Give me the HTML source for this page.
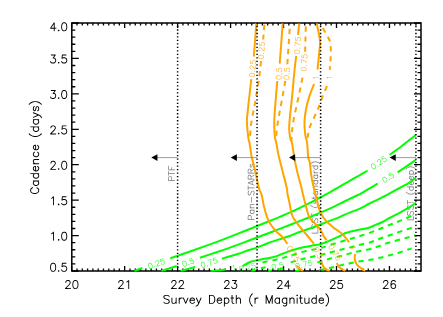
<!DOCTYPE html>
<html><head><meta charset="utf-8"><title>Cadence vs Survey Depth</title>
<style>html,body{margin:0;padding:0;background:#fff;font-family:"Liberation Sans",sans-serif}svg{display:block}</style>
</head><body>
<svg width="443" height="317" viewBox="0 0 443 317">
<rect width="443" height="317" fill="#fff"/>
<defs><clipPath id="clip"><rect x="71.1" y="22.3" width="350.59999999999997" height="249.4"/></clipPath><path id="g0" d="M16.38,-21.12 13.38,-22.12 4,-22.17 3.42,-22 3,-21.58 2.83,-21 2.83,0 3,0.58 3.42,1 4,1.17 4.42,1.08 4.92,0.71 5.12,0.29 5.21,-8.83 13.38,-8.88 16.38,-9.88 16.83,-10.17 18.08,-11.5 19.12,-13.71 19.12,-17.29 18.08,-19.5 16.83,-20.83ZM5.17,-19.79 12.83,-19.83 15.33,-19 16.04,-18.29 16.83,-16.71 16.83,-14.29 16.04,-12.71 15.33,-12 12.83,-11.17 5.21,-11.17Z"/><path id="g1" d="M0.71,-22.12 0.08,-21.71 -0.08,-21.42 -0.17,-21 -0.08,-20.58 0.08,-20.29 0.58,-19.92 1,-19.83 6.83,-19.79 6.83,0 6.92,0.42 7.29,0.92 7.71,1.12 8.29,1.12 8.92,0.71 9.08,0.42 9.17,0 9.17,-19.79 15.29,-19.88 15.71,-20.08 16,-20.42 16.12,-20.71 16.12,-21.29 15.71,-21.92 15.42,-22.08 15,-22.17Z"/><path id="g2" d="M17.58,-22 17,-22.17 4,-22.17 3.42,-22 3,-21.58 2.83,-21 2.83,0 3,0.58 3.42,1 4,1.17 4.42,1.08 4.92,0.71 5.12,0.29 5.17,-9.79 12.29,-9.88 12.92,-10.29 13.08,-10.58 13.17,-11 13.08,-11.42 12.92,-11.71 12.29,-12.12 5.17,-12.21 5.17,-19.79 17.29,-19.88 17.92,-20.29 18.08,-20.58 18.17,-21 18,-21.58Z"/><path id="g3" d="M5.5,-14.08 3,-11.58 1.88,-8.38 1.88,-5.62 2.88,-2.62 3.17,-2.17 5.5,0.08 7.71,1.12 11.29,1.12 13.5,0.08 13.79,-0.17 14,0.58 14.42,1 15,1.17 15.42,1.08 15.71,0.92 16,0.58 16.17,0 16.17,-14 16.08,-14.42 15.92,-14.71 15.29,-15.12 14.58,-15.08 14.29,-14.92 14,-14.58 13.79,-13.83 13.5,-14.08 11.29,-15.12 8,-15.17 7.42,-15.04ZM8.29,-12.83 10.71,-12.83 12.29,-12.04 13.83,-10.5 13.83,-3.5 12.29,-1.96 10.71,-1.17 8.29,-1.17 6.71,-1.96 5,-3.67 4.17,-6.17 4.17,-7.83 5,-10.33 6.71,-12.04Z"/><path id="g4" d="M3.29,-14.92 3,-14.58 2.83,-14 2.83,0 2.92,0.42 3.08,0.71 3.58,1.08 4.29,1.12 4.71,0.92 5.12,0.29 5.17,-9.5 7.71,-12.04 9.29,-12.83 11.71,-12.83 13.08,-12.08 13.83,-9.83 13.88,0.29 14.08,0.71 14.58,1.08 15.29,1.12 15.71,0.92 16,0.58 16.17,0 16.12,-10.38 15.12,-13.38 14.92,-13.71 14.5,-14.08 12.29,-15.12 9,-15.17 8.42,-15.04 6.5,-14.08 5.21,-12.88 5.12,-14.29 4.92,-14.71 4.58,-15 4,-15.17 3.58,-15.08Z"/><path id="g5" d="M2.83,-9 2.92,-8.58 3.08,-8.29 3.42,-8 4,-7.83 22,-7.83 22.42,-7.92 22.71,-8.08 23,-8.42 23.17,-9 23.08,-9.42 22.92,-9.71 22.58,-10 22,-10.17 4,-10.17 3.58,-10.08 3.29,-9.92 3,-9.58Z"/><path id="g6" d="M7.62,-22.12 4.42,-21 2.17,-18.83 1.92,-18.42 1.83,-18 1.83,-16 1.96,-15.42 2.92,-13.5 4.5,-11.92 6.62,-10.88 12.46,-8.96 14.29,-8.04 15.04,-7.29 15.83,-5.71 15.83,-3.5 14.33,-2 11.83,-1.17 8.17,-1.17 5.67,-2 3.83,-3.83 3.29,-4.12 2.71,-4.12 2.29,-3.92 1.92,-3.42 1.88,-2.71 2.17,-2.17 4.17,-0.17 4.62,0.12 7.62,1.12 12.38,1.12 15.58,0 17.83,-2.17 18.08,-2.58 18.17,-3 18.17,-6 18.04,-6.58 17.08,-8.5 15.5,-10.08 13.38,-11.12 7.54,-13.04 5.71,-13.96 4.96,-14.71 4.17,-16.29 4.17,-17.5 5.67,-19 8.17,-19.83 11.83,-19.83 14.33,-19 16.17,-17.17 16.71,-16.88 17.29,-16.88 17.71,-17.08 18.08,-17.58 18.12,-18.29 17.83,-18.83 15.83,-20.83 15.38,-21.12 12.38,-22.12Z"/><path id="g7" d="M9.42,-22.08 9,-22.17 8.58,-22.08 8.29,-21.92 7.88,-21.38 -0.08,-0.46 -0.17,0 -0.08,0.42 0.08,0.71 0.58,1.08 1,1.17 1.42,1.08 1.71,0.92 2.12,0.38 4.5,-5.83 13.5,-5.83 15.88,0.38 16.08,0.71 16.58,1.08 17.29,1.12 17.71,0.92 18.08,0.42 18.17,0 18.04,-0.58 10.12,-21.38 9.92,-21.71ZM9,-17.67 12.62,-8.25 12.58,-8.17 5.38,-8.21Z"/><path id="g8" d="M3.42,-22 3,-21.58 2.83,-21 2.83,0 3,0.58 3.42,1 4,1.17 4.42,1.08 4.71,0.92 5.12,0.29 5.17,-9.79 10.33,-9.83 17,0.62 17.29,0.92 17.71,1.12 18,1.17 18.58,1 18.92,0.71 19.12,0.29 19.17,0 19,-0.62 13.12,-9.83 16.38,-10.88 16.83,-11.17 18.08,-12.5 19.04,-14.42 19.17,-15 19.12,-17.29 18.08,-19.5 16.83,-20.83 16.38,-21.12 13.38,-22.12 4,-22.17ZM5.17,-19.79 12.83,-19.83 15.33,-19 16.04,-18.29 16.83,-16.71 16.83,-15.29 16.04,-13.71 15.33,-13 12.83,-12.17 5.21,-12.17Z"/><path id="g9" d="M6.62,-15.12 3.62,-14.12 3.29,-13.92 2.92,-13.5 1.96,-11.58 1.83,-11 1.96,-10.42 2.92,-8.5 3.5,-7.92 5.42,-6.96 10.54,-5.92 12.04,-5.17 12.83,-3.71 12.83,-3.29 12.08,-1.92 9.83,-1.17 7.17,-1.17 4.92,-1.92 4.08,-3.5 3.71,-3.92 3.29,-4.12 2.71,-4.12 2.29,-3.92 1.92,-3.42 1.88,-2.71 2.92,-0.5 3.29,-0.08 3.62,0.12 6.62,1.12 10.38,1.12 13.38,0.12 13.92,-0.29 15.12,-2.71 15.17,-4 15.04,-4.58 14.08,-6.5 13.5,-7.08 11.58,-8.04 6.46,-9.08 4.96,-9.83 4.33,-11.04 4.92,-12.08 7.17,-12.83 9.83,-12.83 12.08,-12.08 12.92,-10.5 13.29,-10.08 13.71,-9.88 14.29,-9.88 14.71,-10.08 15.08,-10.58 15.12,-11.29 14.08,-13.5 13.71,-13.92 13.38,-14.12 10.38,-15.12Z"/><path id="g10" d="M3.42,-22 3,-21.58 2.83,-21 2.83,0 3,0.58 3.42,1 4,1.17 16,1.17 16.58,1 17,0.58 17.17,0 17.08,-0.42 16.92,-0.71 16.29,-1.12 5.17,-1.21 5.17,-21 5,-21.58 4.58,-22 4,-22.17Z"/><path id="g11" d="M11,-26.17 10.58,-26.08 10.17,-25.83 8.17,-23.83 5.92,-20.5 3.96,-16.58 2.83,-11 2.88,-6.62 3.96,-1.42 5.92,2.5 7.96,5.58 10.17,7.83 10.58,8.08 11,8.17 11.42,8.08 11.92,7.71 12.12,7.29 12.08,6.58 11.83,6.17 9.88,4.21 8.04,1.46 6.08,-2.46 5.17,-7 5.17,-11 6.08,-15.54 8.04,-19.46 9.88,-22.21 11.83,-24.17 12.08,-24.58 12.12,-25.29 11.92,-25.71 11.58,-26Z"/><path id="g12" d="M4.71,-22.12 4.08,-21.71 3.92,-21.42 3.83,-21 3.83,-15.21 2,-15.17 1.42,-15 1.08,-14.71 0.92,-14.42 0.88,-13.71 1.08,-13.29 1.71,-12.88 3.83,-12.79 3.88,-3.62 5,-0.42 5.5,0.08 7.42,1.04 8,1.17 10.29,1.12 10.71,0.92 11.08,0.42 11.12,-0.29 10.92,-0.71 10.29,-1.12 8.29,-1.17 7.04,-1.79 6.92,-1.92 6.17,-4.17 6.17,-12.79 9,-12.83 9.42,-12.92 9.71,-13.08 10,-13.42 10.12,-13.71 10.12,-14.29 9.92,-14.71 9.29,-15.12 6.17,-15.21 6.12,-21.29 5.92,-21.71 5.58,-22 5.29,-22.12Z"/><path id="g13" d="M15.42,-22.08 15,-22.17 14.42,-22 14.08,-21.71 13.88,-21.29 13.79,-13.83 13.5,-14.08 11.29,-15.12 7.71,-15.12 5.5,-14.08 5.17,-13.83 3.17,-11.83 2.88,-11.38 1.88,-8.38 1.83,-8 1.88,-5.62 2.88,-2.62 3.17,-2.17 5.17,-0.17 5.5,0.08 7.42,1.04 8,1.17 11.29,1.12 13.5,0.08 13.79,-0.17 13.88,0.29 14.08,0.71 14.71,1.12 15,1.17 15.58,1 15.92,0.71 16.08,0.42 16.17,0 16.17,-21 16.08,-21.42 15.92,-21.71ZM8.29,-12.83 10.71,-12.83 12.29,-12.04 13.83,-10.5 13.83,-3.5 12.29,-1.96 10.71,-1.17 8.29,-1.17 6.71,-1.96 5,-3.67 4.17,-6.17 4.17,-7.83 5,-10.33 6.71,-12.04Z"/><path id="g14" d="M12.58,-15 12,-15.17 9,-15.17 8.42,-15.04 6.5,-14.08 5.21,-12.88 5.12,-14.29 4.71,-14.92 4.29,-15.12 3.71,-15.12 3.29,-14.92 3,-14.58 2.83,-14 2.83,0 3,0.58 3.42,1 4,1.17 4.42,1.08 4.92,0.71 5.12,0.29 5.17,-7.83 6,-10.33 7.71,-12.04 9.29,-12.83 12,-12.83 12.42,-12.92 12.71,-13.08 13,-13.42 13.17,-14 13,-14.58Z"/><path id="g15" d="M3,-26.17 2.58,-26.08 2.08,-25.71 1.88,-25.29 1.92,-24.58 2.17,-24.17 4.12,-22.21 5.96,-19.46 7.92,-15.54 8.83,-11 8.83,-7 7.92,-2.46 5.96,1.46 4.12,4.21 2.17,6.17 1.92,6.58 1.88,7.29 2.08,7.71 2.42,8 3,8.17 3.42,8.08 3.83,7.83 5.83,5.83 8.08,2.5 10.04,-1.42 11.17,-7 11.12,-11.38 10.04,-16.58 8.08,-20.5 6.04,-23.58 3.83,-25.83 3.42,-26.08Z"/><path id="g16" d="M7.71,-15.12 5.5,-14.08 5.17,-13.83 3,-11.58 1.88,-8.38 1.88,-5.62 3,-2.42 5.5,0.08 7.71,1.12 11.29,1.12 13.5,0.08 15.83,-2.17 16.08,-2.58 16.17,-3 16.08,-3.42 15.92,-3.71 15.42,-4.08 14.71,-4.12 14.17,-3.83 12.29,-1.96 10.71,-1.17 8.29,-1.17 6.71,-1.96 5,-3.67 4.17,-6.17 4.17,-6.79 15.29,-6.88 15.71,-7.08 16.12,-7.71 16.12,-10.29 15.08,-12.5 13.5,-14.08 11.29,-15.12ZM4.62,-9.21 5,-10.33 6.71,-12.04 8.29,-12.83 10.71,-12.83 12.29,-12.04 13.04,-11.29 13.83,-9.71 13.79,-9.17Z"/><path id="g17" d="M11.58,-15.04 11,-15.17 7.71,-15.12 5.5,-14.08 5.21,-13.83 5.12,-14.29 4.92,-14.71 4.29,-15.12 4,-15.17 3.42,-15 3.08,-14.71 2.92,-14.42 2.83,-14 2.83,7 2.92,7.42 3.08,7.71 3.58,8.08 4,8.17 4.58,8 4.92,7.71 5.12,7.29 5.21,-0.17 5.5,0.08 7.71,1.12 11.29,1.12 13.5,0.08 13.83,-0.17 15.83,-2.17 16.12,-2.62 17.12,-5.62 17.17,-6 17.12,-8.38 16.12,-11.38 15.83,-11.83 13.83,-13.83 13.5,-14.08ZM8.29,-12.83 10.71,-12.83 12.29,-12.04 14,-10.33 14.83,-7.83 14.83,-6.17 14,-3.67 12.29,-1.96 10.71,-1.17 8.29,-1.17 6.71,-1.96 5.17,-3.5 5.17,-10.5 6.71,-12.04Z"/><path id="g18" d="M9,-22.12 8.62,-22.08 5.62,-21.08 5.25,-20.83 3.08,-17.67 2.88,-17.17 1.92,-12.38 1.88,-9 2.96,-3.58 5.17,-0.25 5.62,0.08 8.62,1.08 11,1.12 11.38,1.08 14.38,0.08 14.75,-0.17 16.92,-3.33 17.12,-3.83 18.08,-8.62 18.12,-12 17.04,-17.42 14.83,-20.75 14.38,-21.08 11.38,-22.08ZM9.17,-19.88 10.83,-19.88 13.33,-19 14.96,-16.54 15.88,-12 15.88,-9 14.96,-4.46 13.29,-1.96 10.83,-1.12 9.17,-1.12 6.67,-2 5.04,-4.46 4.12,-9 4.12,-12 5.04,-16.54 6.71,-19.04Z"/><path id="g19" d="M5,-3.12 4.58,-3.04 4.25,-2.83 3.17,-1.75 2.96,-1.42 2.88,-1 2.96,-0.58 3.17,-0.25 4.25,0.83 4.58,1.04 5,1.12 5.42,1.04 5.75,0.83 6.83,-0.25 7.04,-0.58 7.12,-1 7.04,-1.42 6.83,-1.75 5.75,-2.83 5.42,-3.04Z"/><path id="g20" d="M7.46,-22 5.42,-20.96 3.96,-19.46 2.92,-17.29 2.92,-15.71 3.25,-15.17 3.58,-14.96 4,-14.88 4.42,-14.96 4.75,-15.17 5.08,-15.71 5.12,-16.75 5.92,-18.33 6.67,-19.08 8.25,-19.88 11.75,-19.88 13.33,-19.08 14.08,-18.33 14.88,-16.75 14.88,-15.25 14,-13.5 12.17,-10.75 2.17,-0.75 1.92,-0.29 1.96,0.42 2.42,0.96 3,1.12 17,1.12 17.42,1.04 17.96,0.58 18.12,0 18.04,-0.42 17.83,-0.75 17.29,-1.08 5.75,-1.17 13.83,-9.25 16.04,-12.54 17,-14.46 17.12,-15 17.12,-17 17,-17.54 15.96,-19.58 14.58,-20.96 12.29,-22.08 8,-22.12Z"/><path id="g21" d="M4.58,-22.04 4.04,-21.58 3.83,-20.88 2.88,-12.21 2.92,-11.71 3.04,-11.42 3.58,-10.96 4.29,-10.92 4.75,-11.17 5.58,-12 8.17,-12.88 10.83,-12.88 13.33,-12.04 15.04,-10.33 15.88,-7.83 15.88,-6.17 15,-3.58 13.42,-2 10.83,-1.12 8.17,-1.12 5.58,-2 4.92,-2.67 3.96,-4.58 3.75,-4.83 3.29,-5.08 2.71,-5.08 2.17,-4.75 1.96,-4.42 1.88,-4 2,-3.46 3.04,-1.42 4.25,-0.17 4.62,0.08 7.62,1.08 11.38,1.08 14.38,0.08 14.75,-0.17 16.96,-2.42 18.08,-5.62 18.08,-8.38 16.96,-11.58 14.58,-13.96 11.38,-15.08 7.62,-15.08 5.46,-14.33 5.42,-14.71 6.04,-19.88 15.29,-19.92 15.58,-20.04 15.96,-20.42 16.12,-21 16.04,-21.42 15.58,-21.96 15,-22.12 5,-22.12Z"/><path id="g22" d="M17.42,-22.04 17,-22.12 3,-22.12 2.42,-21.96 1.96,-21.42 1.88,-21 2.04,-20.42 2.42,-20.04 3,-19.88 15.21,-19.83 6.08,-0.75 5.92,-0.29 5.92,0.29 6.17,0.75 6.58,1.04 7,1.12 7.42,1.04 7.75,0.83 8.04,0.46 17.92,-20.25 18.08,-20.71 18.08,-21.29 17.83,-21.75Z"/><path id="g23" d="M11,-22.12 10.58,-22.04 10.25,-21.83 7.33,-18.92 5.25,-17.83 4.96,-17.42 4.88,-17 4.96,-16.58 5.25,-16.17 5.71,-15.92 6.29,-15.92 8.46,-16.96 9.88,-18.21 9.88,0 9.96,0.42 10.17,0.75 10.58,1.04 11,1.12 11.42,1.04 11.75,0.83 12.04,0.42 12.12,0 12.12,-21 12.04,-21.42 11.83,-21.75 11.42,-22.04Z"/><path id="g24" d="M7.46,-22.08 5.12,-20.88 4.12,-19.88 2.83,-17.29 2.83,-15.71 3.17,-15.12 3.58,-14.88 4,-14.79 4.42,-14.88 4.83,-15.12 5.17,-15.71 5.21,-16.75 5.92,-18.17 6.83,-19.08 8.25,-19.79 11.75,-19.79 13.17,-19.08 14.08,-18.17 14.79,-16.75 14.79,-15.25 13.96,-13.58 12.21,-10.96 2.12,-0.88 1.83,-0.29 1.88,0.42 2.12,0.83 2.33,1 3,1.21 17,1.21 17.42,1.12 17.83,0.88 18,0.67 18.21,0 18.12,-0.42 17.88,-0.83 17.29,-1.17 6,-1.25 13.88,-9.12 16.08,-12.46 17.08,-14.46 17.21,-15 17.21,-17 17.08,-17.54 15.88,-19.88 14.88,-20.88 12.29,-22.17 8,-22.21Z"/><path id="g25" d="M9,-22.21 8.62,-22.17 5.33,-21 4.96,-20.62 3.04,-17.75 2.79,-17.21 1.83,-12.42 1.79,-9 2.79,-3.79 3.04,-3.25 5.12,-0.17 5.62,0.17 8.62,1.17 11,1.21 11.38,1.17 14.67,0 15.04,-0.38 16.96,-3.25 17.21,-3.79 18.17,-8.58 18.21,-12 17.21,-17.21 16.96,-17.75 14.88,-20.83 14.38,-21.17 11.38,-22.17ZM9.17,-19.79 10.83,-19.79 13.29,-18.92 14.88,-16.54 15.79,-11.96 15.79,-9.04 14.88,-4.46 13.21,-2 10.83,-1.21 9.17,-1.21 6.71,-2.08 5.12,-4.46 4.21,-9.04 4.21,-11.96 5.12,-16.54 6.79,-19Z"/><path id="g26" d="M11,-22.21 10.58,-22.12 10.12,-21.88 7.17,-18.92 5.17,-17.88 4.88,-17.42 4.79,-17 4.88,-16.58 5.17,-16.12 5.71,-15.83 6.29,-15.83 8.54,-16.92 9.79,-17.96 9.79,0 9.88,0.42 10.12,0.83 10.58,1.12 11,1.21 11.42,1.12 11.83,0.88 12.12,0.42 12.21,0 12.21,-21 12.12,-21.42 11.88,-21.83 11.42,-22.12Z"/><path id="g27" d="M4.58,-22.12 4.17,-21.88 4,-21.67 3.79,-21 3.88,-20.58 4.12,-20.17 4.71,-19.83 13.58,-19.75 9.08,-13.79 8.83,-13.29 8.83,-12.71 9.12,-12.17 9.71,-11.83 12.75,-11.79 14.17,-11.08 14.96,-10.29 15.79,-7.83 15.79,-6.17 14.96,-3.71 13.29,-2.04 10.83,-1.21 8.17,-1.21 5.71,-2.04 4.92,-2.83 3.88,-4.83 3.29,-5.17 2.71,-5.17 2.12,-4.83 1.83,-4.29 1.79,-4 1.92,-3.46 3.12,-1.12 4.12,-0.12 4.62,0.17 7.62,1.17 11.38,1.17 14.38,0.17 14.88,-0.12 16.88,-2.12 17.17,-2.62 18.17,-5.62 18.17,-8.38 17.17,-11.38 16.88,-11.88 15.88,-12.88 13.54,-14.08 12.42,-14.25 17,-20.33 17.21,-21 17.12,-21.42 16.88,-21.83 16.67,-22 16,-22.21 5,-22.21Z"/><path id="g28" d="M13,-22.21 12.58,-22.12 12,-21.71 2,-7.71 1.79,-7 1.88,-6.58 2.12,-6.17 2.58,-5.88 3,-5.79 11.75,-5.79 11.83,0.29 12.17,0.88 12.58,1.12 13,1.21 13.42,1.12 13.83,0.88 14.17,0.29 14.21,-5.75 18.29,-5.83 18.88,-6.17 19.12,-6.58 19.21,-7 19.12,-7.42 18.88,-7.83 18.29,-8.17 14.21,-8.25 14.21,-21 14.12,-21.42 13.88,-21.83 13.42,-22.12ZM11.75,-17.17 11.79,-8.25 5.42,-8.21 5.54,-8.5Z"/><path id="g29" d="M4.58,-22.12 4.12,-21.83 3.79,-21.12 2.79,-12.21 2.83,-11.71 3.17,-11.12 3.58,-10.88 4.29,-10.83 4.88,-11.12 5.71,-11.96 8.17,-12.79 10.83,-12.79 13.21,-12 15,-10.21 15.79,-7.83 15.79,-6.17 14.96,-3.71 13.29,-2.04 10.83,-1.21 8.17,-1.21 5.71,-2.04 4.92,-2.83 3.88,-4.83 3.29,-5.17 2.71,-5.17 2.12,-4.83 1.83,-4.29 1.79,-4 1.92,-3.46 3.12,-1.12 4.12,-0.12 4.62,0.17 7.62,1.17 11.38,1.17 14.38,0.17 14.88,-0.12 16.88,-2.12 17.17,-2.62 18.17,-5.62 18.17,-8.38 17,-11.67 14.88,-13.88 14.38,-14.17 11.38,-15.17 7.62,-15.17 5.58,-14.46 5.5,-14.5 6.04,-19.62 6.12,-19.79 15.29,-19.83 15.67,-20 16,-20.33 16.21,-21 16.12,-21.42 15.88,-21.83 15.67,-22 15,-22.21 5,-22.21Z"/><path id="g30" d="M12,-22.21 9.62,-22.17 6.62,-21.17 6.12,-20.83 4.04,-17.75 3.79,-17.21 2.79,-12 2.83,-6.62 3.79,-2.79 4,-2.33 6.33,0 9.62,1.17 10,1.21 11.38,1.17 14.38,0.17 14.88,-0.12 16.88,-2.12 17.17,-2.62 18.17,-5.62 18.21,-6 18.17,-7.38 17.17,-10.38 16.88,-10.88 14.88,-12.88 14.38,-13.17 11.38,-14.17 9.62,-14.17 6.62,-13.17 6.12,-12.88 5.25,-12.08 6.12,-16.54 7.79,-19 10.17,-19.79 11.83,-19.79 14.08,-19.04 15,-17.33 15.17,-17.12 15.58,-16.88 16.29,-16.83 16.67,-17 17,-17.33 17.17,-17.71 17.17,-18.29 16.08,-20.54 15.83,-20.88 15.38,-21.17 12.38,-22.17ZM10.17,-11.79 10.83,-11.79 13.29,-10.96 14.96,-9.29 15.79,-6.83 15.79,-6.17 14.96,-3.71 13.29,-2.04 10.83,-1.21 10.17,-1.21 7.71,-2.04 6.08,-3.67 5.25,-6.92 6.04,-9.29 7.71,-10.96Z"/><path id="g31" d="M5,-3.21 4.58,-3.12 4.12,-2.88 3.12,-1.88 2.88,-1.42 2.79,-1 2.88,-0.58 3.12,-0.12 4.12,0.88 4.58,1.12 5,1.21 5.42,1.12 5.88,0.88 6.88,-0.12 7.12,-0.58 7.21,-1 7.12,-1.42 6.88,-1.88 5.88,-2.88 5.42,-3.12Z"/><path id="g32" d="M7.62,-22.17 4.33,-21 2.12,-18.88 1.88,-18.42 1.79,-18 1.79,-16 1.92,-15.46 3.12,-13.12 4.12,-12.12 6.62,-10.83 12.58,-8.88 14.17,-8.08 15.08,-7.17 15.79,-5.75 15.79,-3.54 14.29,-2.04 11.83,-1.21 8.17,-1.21 5.79,-2 3.88,-3.88 3.29,-4.17 2.71,-4.17 2.17,-3.88 1.83,-3.29 1.83,-2.71 2.12,-2.12 4.12,-0.12 4.62,0.17 7.62,1.17 12.38,1.17 15.67,0 17.88,-2.12 18.12,-2.58 18.21,-3 18.21,-6 18.08,-6.54 16.88,-8.88 15.88,-9.88 13.38,-11.17 7.42,-13.12 5.83,-13.92 4.92,-14.83 4.21,-16.25 4.21,-17.46 5.71,-18.96 8.17,-19.79 11.83,-19.79 14.21,-19 16.12,-17.12 16.71,-16.83 17.29,-16.83 17.83,-17.12 18.17,-17.71 18.17,-18.29 17.88,-18.88 15.88,-20.88 15.38,-21.17 12.38,-22.17Z"/><path id="g33" d="M3.17,-14.88 2.88,-14.42 2.79,-14 2.83,-3.62 3.83,-0.62 4.12,-0.17 4.46,0.08 6.71,1.17 10,1.21 10.54,1.08 12.88,-0.12 13.75,-1 13.83,0.29 14.17,0.88 14.58,1.12 15,1.21 15.42,1.12 15.83,0.88 16.12,0.42 16.21,0 16.21,-14 16.12,-14.42 15.88,-14.83 15.29,-15.17 14.71,-15.17 14.17,-14.88 13.83,-14.29 13.79,-4.54 11.17,-1.92 9.75,-1.21 7.25,-1.21 5.96,-1.92 5.21,-4.17 5.17,-14.29 4.88,-14.83 4.29,-15.17 3.71,-15.17Z"/><path id="g34" d="M12.67,-15 12,-15.21 8.71,-15.17 6.12,-13.88 5.25,-13 5.17,-14.29 5,-14.67 4.67,-15 4.29,-15.17 3.71,-15.17 3.33,-15 3,-14.67 2.79,-14 2.79,0 3,0.67 3.33,1 4,1.21 4.42,1.12 4.88,0.83 5.17,0.29 5.21,-7.83 6.04,-10.29 7.83,-12.08 9.25,-12.79 12,-12.79 12.67,-13 13,-13.33 13.21,-14 13,-14.67Z"/><path id="g35" d="M1.58,-15.12 1.17,-14.88 0.88,-14.42 0.79,-14 0.96,-13.33 6.88,0.46 7.17,0.88 7.58,1.12 8,1.21 8.42,1.12 8.83,0.88 9.17,0.38 15.04,-13.33 15.21,-14 15.12,-14.42 14.88,-14.83 14.67,-15 14,-15.21 13.33,-15 13,-14.67 8,-3.08 3.12,-14.46 2.83,-14.88 2.42,-15.12 2,-15.21Z"/><path id="g36" d="M7.71,-15.17 5.12,-13.88 3.12,-11.88 2.83,-11.38 1.83,-8.38 1.83,-5.62 3,-2.33 5.12,-0.12 7.71,1.17 11.29,1.17 13.88,-0.12 15.88,-2.12 16.12,-2.58 16.21,-3 16.12,-3.42 15.88,-3.83 15.42,-4.12 15,-4.21 14.33,-4 12.17,-1.92 10.75,-1.21 8.25,-1.21 6.83,-1.92 5.04,-3.71 4.21,-6.17 4.21,-6.75 15.29,-6.83 15.83,-7.12 16.17,-7.71 16.17,-10.29 14.88,-12.88 13.88,-13.88 11.29,-15.17ZM4.71,-9.33 5.04,-10.29 6.83,-12.08 8.25,-12.79 10.75,-12.79 12.17,-12.08 13.08,-11.17 13.79,-9.75 13.75,-9.21 4.75,-9.21Z"/><path id="g37" d="M14.67,-15 14.29,-15.17 13.71,-15.17 13.17,-14.88 12.88,-14.46 8,-3.08 3,-14.67 2.67,-15 2,-15.21 1.33,-15 1,-14.67 0.79,-14 0.88,-13.54 6.67,0 5.08,3.17 3.17,5.08 1.75,5.79 0.71,5.83 0.12,6.17 -0.12,6.58 -0.21,7 0,7.67 0.33,8 1,8.21 2.29,8.17 4.88,6.88 6.88,4.88 9.17,0.38 15.12,-13.54 15.17,-14.29 15,-14.67Z"/><path id="g38" d="M3.58,-22.12 3.17,-21.88 3,-21.67 2.79,-21 2.79,0 2.88,0.42 3.12,0.83 3.33,1 4,1.21 11.38,1.17 14.38,0.17 14.88,-0.12 16.88,-2.12 18.17,-4.62 19.17,-7.62 19.17,-13.38 18.17,-16.38 16.88,-18.88 14.88,-20.88 14.38,-21.17 11.38,-22.17 4,-22.21ZM5.25,-19.79 10.83,-19.79 13.21,-19 15.08,-17.17 15.88,-15.58 16.79,-12.83 16.79,-8.17 15.88,-5.42 15.08,-3.83 13.21,-2 10.83,-1.21 5.21,-1.25Z"/><path id="g39" d="M11.29,-15.17 7.71,-15.17 5.25,-13.92 5.12,-14.42 4.88,-14.83 4.42,-15.12 4,-15.21 3.58,-15.12 3.17,-14.88 2.83,-14.29 2.79,7 2.88,7.42 3.12,7.83 3.71,8.17 4.29,8.17 4.67,8 5,7.67 5.17,7.29 5.21,-0.04 7.71,1.17 11,1.21 11.54,1.08 13.88,-0.12 15.88,-2.12 16.17,-2.62 17.17,-5.62 17.17,-8.38 16.17,-11.38 15.88,-11.88 13.88,-13.88ZM8.25,-12.79 10.75,-12.79 12.17,-12.08 13.96,-10.29 14.79,-7.83 14.79,-6.17 13.96,-3.71 12.17,-1.92 10.75,-1.21 8.25,-1.21 6.83,-1.92 5.21,-3.54 5.21,-10.46 6.83,-12.08Z"/><path id="g40" d="M4.71,-22.17 4.12,-21.83 3.88,-21.42 3.79,-21 3.79,-15.25 2,-15.21 1.33,-15 1.12,-14.83 0.88,-14.42 0.83,-13.71 1.12,-13.17 1.71,-12.83 3.79,-12.75 3.83,-3.62 5,-0.33 5.46,0.08 7.71,1.17 10.29,1.17 10.83,0.88 11.17,0.29 11.17,-0.29 10.88,-0.83 10.29,-1.17 8.25,-1.21 7.08,-1.79 6.96,-1.92 6.21,-4.17 6.21,-12.75 9,-12.79 9.42,-12.88 9.83,-13.12 10.17,-13.71 10.17,-14.29 9.88,-14.83 9.29,-15.17 6.21,-15.25 6.17,-21.29 6,-21.67 5.67,-22 5.29,-22.17Z"/><path id="g41" d="M3.33,-22 3,-21.67 2.79,-21 2.79,0 3,0.67 3.17,0.88 3.58,1.12 4.29,1.17 4.83,0.88 5.17,0.29 5.21,-9.46 7.83,-12.08 9.25,-12.79 11.75,-12.79 13.04,-12.08 13.79,-9.83 13.83,0.29 14.12,0.83 14.58,1.12 15,1.21 15.67,1 16,0.67 16.21,0 16.17,-10.38 15.17,-13.38 14.88,-13.83 14.54,-14.08 12.29,-15.17 9,-15.21 8.46,-15.08 6.12,-13.88 5.25,-13 5.17,-21.29 4.88,-21.83 4.42,-22.12 4,-22.21Z"/><path id="g42" d="M11,-26.21 10.58,-26.12 10.12,-25.88 8.12,-23.88 5.92,-20.54 3.79,-16.21 2.79,-11 2.83,-6.58 3.92,-1.46 5.92,2.54 8.12,5.88 10.12,7.88 10.58,8.12 11,8.21 11.67,8 12,7.67 12.21,7 12.12,6.58 11.88,6.12 9.79,4.04 8.04,1.42 6.17,-2.33 5.21,-7.04 5.21,-10.96 6.12,-15.54 8.04,-19.42 9.79,-22.04 11.88,-24.12 12.12,-24.58 12.21,-25 12,-25.67 11.67,-26Z"/><path id="g43" d="M3.17,-21.88 2.88,-21.42 2.79,-21 2.79,0 2.88,0.42 3.12,0.83 3.71,1.17 4.42,1.12 4.83,0.88 5,0.67 5.21,0 5.25,-14.29 10.79,0.25 11.17,0.88 11.58,1.12 12,1.21 12.42,1.12 12.83,0.88 13.21,0.25 18.75,-14.29 18.79,0 19,0.67 19.17,0.88 19.58,1.12 20.29,1.17 20.83,0.88 21.12,0.42 21.21,0 21.21,-21 21.12,-21.42 20.88,-21.83 20.29,-22.17 19.71,-22.17 19.17,-21.88 18.79,-21.25 12,-3.42 5.21,-21.25 4.88,-21.83 4.29,-22.17 3.71,-22.17Z"/><path id="g44" d="M5.12,-13.88 3,-11.67 1.83,-8.38 1.83,-5.62 2.83,-2.62 3.12,-2.12 5.12,-0.12 7.71,1.17 11.29,1.17 13.75,-0.08 14,0.67 14.33,1 15,1.21 15.67,1 16,0.67 16.21,0 16.21,-14 16,-14.67 15.83,-14.88 15.42,-15.12 14.71,-15.17 14.12,-14.83 13.88,-14.42 13.75,-13.92 11.29,-15.17 8,-15.21 7.46,-15.08ZM8.25,-12.79 10.75,-12.79 12.17,-12.08 13.79,-10.46 13.79,-3.54 12.17,-1.92 10.75,-1.21 8.25,-1.21 6.83,-1.92 5.04,-3.71 4.21,-6.17 4.21,-7.83 5.04,-10.29 6.83,-12.08Z"/><path id="g45" d="M15.29,-15.17 14.71,-15.17 14.17,-14.88 13.88,-14.42 13.75,-13.92 11.54,-15.08 11,-15.21 7.71,-15.17 5.12,-13.88 3.12,-11.88 2.83,-11.38 1.83,-8.38 1.83,-5.62 2.83,-2.62 3.12,-2.12 5.12,-0.12 7.46,1.08 8,1.21 11.29,1.17 13.79,-0.04 13.79,1.83 13,4.21 12.17,5.08 10.75,5.79 8.25,5.79 6.54,4.92 6,4.79 5.33,5 5,5.33 4.79,6 4.88,6.42 5.12,6.83 5.46,7.08 7.71,8.17 11.29,8.17 13.88,6.88 14.88,5.88 15.17,5.38 16.17,2.38 16.21,-14 16.12,-14.42 15.88,-14.83ZM8.25,-12.79 10.75,-12.79 12.17,-12.08 13.79,-10.46 13.79,-3.54 12.17,-1.92 10.75,-1.21 8.25,-1.21 6.83,-1.92 5.04,-3.71 4.21,-6.17 4.21,-7.83 5.04,-10.29 6.83,-12.08Z"/><path id="g46" d="M3.17,-14.88 2.88,-14.42 2.79,-14 2.79,0 2.88,0.42 3.12,0.83 3.71,1.17 4.29,1.17 4.83,0.88 5.17,0.29 5.21,-9.46 7.83,-12.08 9.25,-12.79 11.75,-12.79 13.04,-12.08 13.79,-9.83 13.83,0.29 14.12,0.83 14.71,1.17 15.29,1.17 15.83,0.88 16.12,0.42 16.21,0 16.17,-10.38 15.17,-13.38 14.88,-13.83 14.54,-14.08 12.29,-15.17 9,-15.21 8.46,-15.08 6.12,-13.88 5.25,-13 5.17,-14.29 4.83,-14.88 4.42,-15.12 4,-15.21 3.58,-15.12Z"/><path id="g47" d="M4,-15.21 3.58,-15.12 3.17,-14.88 2.88,-14.42 2.79,-14 2.79,0 2.88,0.42 3.12,0.83 3.58,1.12 4,1.21 4.42,1.12 4.83,0.88 5.12,0.42 5.21,0 5.21,-14 5.12,-14.42 4.88,-14.83 4.42,-15.12ZM4,-23.21 3.58,-23.12 3.12,-22.88 2.12,-21.88 1.88,-21.42 1.79,-21 1.88,-20.58 2.12,-20.12 3.12,-19.12 3.58,-18.88 4,-18.79 4.42,-18.88 4.88,-19.12 5.88,-20.12 6.12,-20.58 6.21,-21 6.12,-21.42 5.88,-21.88 4.88,-22.88 4.42,-23.12Z"/><path id="g48" d="M15.29,-22.17 14.71,-22.17 14.33,-22 14,-21.67 13.83,-21.29 13.79,-13.96 11.29,-15.17 8,-15.21 7.46,-15.08 5.12,-13.88 3.12,-11.88 2.83,-11.38 1.83,-8.38 1.83,-5.62 2.83,-2.62 3.12,-2.12 5.12,-0.12 7.71,1.17 11.29,1.17 13.75,-0.08 13.88,0.42 14.12,0.83 14.58,1.12 15,1.21 15.42,1.12 15.83,0.88 16.17,0.29 16.21,-21 16.12,-21.42 15.88,-21.83ZM8.25,-12.79 10.75,-12.79 12.17,-12.08 13.79,-10.46 13.79,-3.54 12.17,-1.92 10.75,-1.21 8.25,-1.21 6.83,-1.92 5.04,-3.71 4.21,-6.17 4.21,-7.83 5.04,-10.29 6.83,-12.08Z"/><path id="g49" d="M3,-26.21 2.33,-26 2,-25.67 1.79,-25 1.88,-24.58 2.12,-24.12 4.21,-22.04 5.96,-19.42 7.83,-15.67 8.79,-10.96 8.79,-7.04 7.88,-2.46 5.96,1.42 4.21,4.04 2.12,6.12 1.88,6.58 1.79,7 2,7.67 2.33,8 3,8.21 3.42,8.12 3.88,7.88 5.88,5.88 8.08,2.54 10.21,-1.79 11.21,-7 11.17,-11.42 10.08,-16.54 8.08,-20.54 5.88,-23.88 3.88,-25.88 3.42,-26.12Z"/><path id="g50" d="M8.71,-22.17 6.12,-20.88 4.12,-18.88 2.83,-16.38 1.83,-13.38 1.83,-7.62 2.83,-4.62 4.12,-2.12 6.12,-0.12 8.71,1.17 13.29,1.17 15.88,-0.12 17.88,-2.12 19.08,-4.46 19.21,-5 19.12,-5.42 18.83,-5.88 18.29,-6.17 17.71,-6.17 17.33,-6 16.92,-5.54 16.08,-3.83 14.17,-1.92 12.75,-1.21 9.25,-1.21 7.83,-1.92 5.92,-3.83 5.12,-5.42 4.21,-8.17 4.21,-12.83 5.12,-15.58 5.92,-17.17 7.83,-19.08 9.25,-19.79 12.75,-19.79 14.17,-19.08 16.08,-17.17 16.92,-15.46 17.17,-15.12 17.58,-14.88 18.29,-14.83 18.83,-15.12 19.17,-15.71 19.17,-16.29 17.88,-18.88 15.88,-20.88 13.29,-22.17Z"/><path id="g51" d="M7.71,-15.17 5.12,-13.88 3.12,-11.88 2.83,-11.38 1.83,-8.38 1.83,-5.62 3,-2.33 5.12,-0.12 7.71,1.17 11.29,1.17 13.88,-0.12 15.88,-2.12 16.12,-2.58 16.21,-3 16,-3.67 15.67,-4 15.29,-4.17 14.58,-4.12 14.12,-3.88 12.17,-1.92 10.75,-1.21 8.25,-1.21 6.83,-1.92 5.04,-3.71 4.21,-6.17 4.21,-7.83 5,-10.21 6.83,-12.08 8.25,-12.79 10.75,-12.79 12.17,-12.08 14.12,-10.12 14.71,-9.83 15.29,-9.83 15.83,-10.12 16.17,-10.71 16.17,-11.29 15.88,-11.88 13.88,-13.88 11.54,-15.08 11,-15.21Z"/><path id="g52" d="M6.62,-15.17 3.62,-14.17 3.17,-13.88 2.92,-13.54 1.92,-11.54 1.79,-11 1.92,-10.46 2.92,-8.46 3.46,-7.92 5.79,-6.79 10.54,-5.88 12.08,-5.12 12.79,-3.75 12.79,-3.25 12.08,-1.96 9.83,-1.21 7.17,-1.21 4.92,-1.96 4,-3.67 3.67,-4 3.29,-4.17 2.71,-4.17 2.17,-3.88 1.83,-3.29 1.83,-2.71 2.92,-0.46 3.17,-0.12 3.62,0.17 6.62,1.17 10.38,1.17 13.38,0.17 13.88,-0.17 15.17,-2.71 15.21,-4 15.08,-4.54 14.08,-6.54 13.54,-7.08 11.21,-8.21 6.33,-9.17 4.92,-9.88 4.33,-11 4.92,-12.04 7.17,-12.79 9.83,-12.79 12.08,-12.04 13,-10.33 13.33,-10 13.71,-9.83 14.29,-9.83 14.83,-10.12 15.17,-10.71 15.17,-11.29 14.08,-13.54 13.83,-13.88 13.38,-14.17 10.38,-15.17Z"/></defs>
<rect x="71.8" y="23.0" width="349.2" height="248.0" fill="none" stroke="#000" stroke-width="1.5"/>
<path d="M71.70,271.0v-4.9M71.70,23.0v4.9M77.00,271.0v-2.5M77.00,23.0v2.5M82.29,271.0v-2.5M82.29,23.0v2.5M87.59,271.0v-2.5M87.59,23.0v2.5M92.88,271.0v-2.5M92.88,23.0v2.5M98.18,271.0v-2.5M98.18,23.0v2.5M103.48,271.0v-2.5M103.48,23.0v2.5M108.77,271.0v-2.5M108.77,23.0v2.5M114.07,271.0v-2.5M114.07,23.0v2.5M119.36,271.0v-2.5M119.36,23.0v2.5M124.66,271.0v-4.9M124.66,23.0v4.9M129.96,271.0v-2.5M129.96,23.0v2.5M135.25,271.0v-2.5M135.25,23.0v2.5M140.55,271.0v-2.5M140.55,23.0v2.5M145.84,271.0v-2.5M145.84,23.0v2.5M151.14,271.0v-2.5M151.14,23.0v2.5M156.44,271.0v-2.5M156.44,23.0v2.5M161.73,271.0v-2.5M161.73,23.0v2.5M167.03,271.0v-2.5M167.03,23.0v2.5M172.32,271.0v-2.5M172.32,23.0v2.5M177.62,271.0v-4.9M177.62,23.0v4.9M182.92,271.0v-2.5M182.92,23.0v2.5M188.21,271.0v-2.5M188.21,23.0v2.5M193.51,271.0v-2.5M193.51,23.0v2.5M198.80,271.0v-2.5M198.80,23.0v2.5M204.10,271.0v-2.5M204.10,23.0v2.5M209.40,271.0v-2.5M209.40,23.0v2.5M214.69,271.0v-2.5M214.69,23.0v2.5M219.99,271.0v-2.5M219.99,23.0v2.5M225.28,271.0v-2.5M225.28,23.0v2.5M230.58,271.0v-4.9M230.58,23.0v4.9M235.88,271.0v-2.5M235.88,23.0v2.5M241.17,271.0v-2.5M241.17,23.0v2.5M246.47,271.0v-2.5M246.47,23.0v2.5M251.76,271.0v-2.5M251.76,23.0v2.5M257.06,271.0v-2.5M257.06,23.0v2.5M262.36,271.0v-2.5M262.36,23.0v2.5M267.65,271.0v-2.5M267.65,23.0v2.5M272.95,271.0v-2.5M272.95,23.0v2.5M278.24,271.0v-2.5M278.24,23.0v2.5M283.54,271.0v-4.9M283.54,23.0v4.9M288.84,271.0v-2.5M288.84,23.0v2.5M294.13,271.0v-2.5M294.13,23.0v2.5M299.43,271.0v-2.5M299.43,23.0v2.5M304.72,271.0v-2.5M304.72,23.0v2.5M310.02,271.0v-2.5M310.02,23.0v2.5M315.32,271.0v-2.5M315.32,23.0v2.5M320.61,271.0v-2.5M320.61,23.0v2.5M325.91,271.0v-2.5M325.91,23.0v2.5M331.20,271.0v-2.5M331.20,23.0v2.5M336.50,271.0v-4.9M336.50,23.0v4.9M341.80,271.0v-2.5M341.80,23.0v2.5M347.09,271.0v-2.5M347.09,23.0v2.5M352.39,271.0v-2.5M352.39,23.0v2.5M357.68,271.0v-2.5M357.68,23.0v2.5M362.98,271.0v-2.5M362.98,23.0v2.5M368.28,271.0v-2.5M368.28,23.0v2.5M373.57,271.0v-2.5M373.57,23.0v2.5M378.87,271.0v-2.5M378.87,23.0v2.5M384.16,271.0v-2.5M384.16,23.0v2.5M389.46,271.0v-4.9M389.46,23.0v4.9M394.76,271.0v-2.5M394.76,23.0v2.5M400.05,271.0v-2.5M400.05,23.0v2.5M405.35,271.0v-2.5M405.35,23.0v2.5M410.64,271.0v-2.5M410.64,23.0v2.5M415.94,271.0v-2.5M415.94,23.0v2.5M71.8,271.00h7.0M421.0,271.00h-7.0M71.8,263.91h3.5M421.0,263.91h-3.5M71.8,256.83h3.5M421.0,256.83h-3.5M71.8,249.74h3.5M421.0,249.74h-3.5M71.8,242.66h3.5M421.0,242.66h-3.5M71.8,235.57h7.0M421.0,235.57h-7.0M71.8,228.49h3.5M421.0,228.49h-3.5M71.8,221.40h3.5M421.0,221.40h-3.5M71.8,214.31h3.5M421.0,214.31h-3.5M71.8,207.23h3.5M421.0,207.23h-3.5M71.8,200.14h7.0M421.0,200.14h-7.0M71.8,193.06h3.5M421.0,193.06h-3.5M71.8,185.97h3.5M421.0,185.97h-3.5M71.8,178.89h3.5M421.0,178.89h-3.5M71.8,171.80h3.5M421.0,171.80h-3.5M71.8,164.71h7.0M421.0,164.71h-7.0M71.8,157.63h3.5M421.0,157.63h-3.5M71.8,150.54h3.5M421.0,150.54h-3.5M71.8,143.46h3.5M421.0,143.46h-3.5M71.8,136.37h3.5M421.0,136.37h-3.5M71.8,129.29h7.0M421.0,129.29h-7.0M71.8,122.20h3.5M421.0,122.20h-3.5M71.8,115.11h3.5M421.0,115.11h-3.5M71.8,108.03h3.5M421.0,108.03h-3.5M71.8,100.94h3.5M421.0,100.94h-3.5M71.8,93.86h7.0M421.0,93.86h-7.0M71.8,86.77h3.5M421.0,86.77h-3.5M71.8,79.69h3.5M421.0,79.69h-3.5M71.8,72.60h3.5M421.0,72.60h-3.5M71.8,65.51h3.5M421.0,65.51h-3.5M71.8,58.43h7.0M421.0,58.43h-7.0M71.8,51.34h3.5M421.0,51.34h-3.5M71.8,44.26h3.5M421.0,44.26h-3.5M71.8,37.17h3.5M421.0,37.17h-3.5M71.8,30.09h3.5M421.0,30.09h-3.5M71.8,23.00h7.0M421.0,23.00h-7.0" stroke="#000" stroke-width="1.3" fill="none"/>
<g transform="translate(174.62,181.70) rotate(-90.00) scale(0.2900,0.29)" fill="#767676"><use href="#g0" x="0"/><use href="#g1" x="21"/><use href="#g2" x="37"/></g>
<g transform="translate(254.16,220.60) rotate(-90.00) scale(0.2900,0.29)" fill="#767676"><use href="#g0" x="0"/><use href="#g3" x="21"/><use href="#g4" x="40"/><use href="#g5" x="59"/><use href="#g6" x="85"/><use href="#g1" x="105"/><use href="#g7" x="121"/><use href="#g8" x="139"/><use href="#g8" x="160"/><use href="#g9" x="181"/></g>
<g transform="translate(317.91,234.30) rotate(-90.00) scale(0.2900,0.29)" fill="#767676"><use href="#g10" x="0"/><use href="#g6" x="17"/><use href="#g6" x="37"/><use href="#g1" x="57"/><use href="#g11" x="89"/><use href="#g9" x="103"/><use href="#g12" x="120"/><use href="#g3" x="132"/><use href="#g4" x="151"/><use href="#g13" x="170"/><use href="#g3" x="189"/><use href="#g14" x="208"/><use href="#g13" x="221"/><use href="#g15" x="240"/></g>
<g transform="translate(413.44,221.10) rotate(-90.00) scale(0.2900,0.29)" fill="#767676"><use href="#g10" x="0"/><use href="#g6" x="17"/><use href="#g6" x="37"/><use href="#g1" x="57"/><use href="#g11" x="89"/><use href="#g13" x="103"/><use href="#g16" x="122"/><use href="#g16" x="140"/><use href="#g17" x="158"/><use href="#g15" x="177"/></g>
<g clip-path="url(#clip)">
<path d="M134.4,271.0 L142.3,268.0" stroke="#00FF00" stroke-width="2.0" fill="none" stroke-linejoin="round"/>
<path d="M170.3,258.3C173.6,257.2 183.4,253.8 190.0,251.5C196.6,249.2 203.3,246.8 210.0,244.4C216.7,242.0 223.3,239.5 229.9,236.9C236.5,234.3 243.1,231.7 249.7,229.0C256.3,226.3 262.9,223.7 269.6,221.0C276.3,218.3 283.0,215.7 289.7,212.7C296.4,209.7 303.2,206.3 309.9,202.9C316.6,199.5 323.1,196.1 329.7,192.4C336.3,188.7 344.7,183.7 349.7,180.8C354.7,177.9 356.9,176.8 359.9,175.1C362.9,173.4 366.3,171.3 367.6,170.6" stroke="#00FF00" stroke-width="2.0" fill="none" stroke-linejoin="round"/>
<path d="M389.7,154.8C391.4,153.6 396.3,150.3 399.6,147.8C402.9,145.3 406.8,142.1 409.5,139.9C412.2,137.8 414.8,135.7 415.9,134.9" stroke="#00FF00" stroke-width="2.0" fill="none" stroke-linejoin="round"/>
<path d="M161.4,271.0 L176.7,266.0" stroke="#00FF00" stroke-width="2.0" fill="none" stroke-linejoin="round"/>
<path d="M199.9,257.7C202.9,256.7 213.0,253.4 218.0,251.8C223.0,250.1 224.6,249.5 229.9,247.6C235.2,245.7 243.1,242.8 249.7,240.3C256.3,237.8 262.9,235.2 269.6,232.7C276.3,230.1 283.0,227.6 289.7,225.0C296.4,222.4 303.2,219.7 309.9,217.0C316.6,214.3 324.7,210.8 329.7,208.6C334.7,206.4 336.7,205.3 340.0,203.7C343.3,202.1 346.4,200.4 349.7,198.8C353.0,197.2 356.6,195.9 359.9,194.2C363.2,192.4 366.6,190.1 369.6,188.3C372.6,186.5 376.4,184.4 377.7,183.6" stroke="#00FF00" stroke-width="2.0" fill="none" stroke-linejoin="round"/>
<path d="M397.6,172.3C399.2,171.2 404.4,167.8 407.5,165.7C410.6,163.6 414.5,160.8 415.9,159.8" stroke="#00FF00" stroke-width="2.0" fill="none" stroke-linejoin="round"/>
<path d="M180.7,271.0 L195.2,267.0" stroke="#00FF00" stroke-width="2.0" fill="none" stroke-linejoin="round"/>
<path d="M222.0,258.6C223.3,258.2 227.2,257.0 230.0,256.2C232.8,255.4 235.2,254.9 238.5,253.8C241.8,252.7 246.6,250.8 249.7,249.8C252.8,248.8 253.5,248.8 256.8,247.6C260.1,246.4 264.1,244.4 269.6,242.5C275.1,240.6 285.0,237.7 289.7,236.0C294.4,234.3 294.6,233.8 298.0,232.5C301.4,231.2 304.6,230.4 309.9,228.5C315.2,226.6 324.7,222.8 329.7,220.9C334.7,219.0 336.7,218.2 340.0,216.8C343.3,215.4 346.3,214.0 349.6,212.6C352.9,211.2 356.6,210.1 359.9,208.6C363.2,207.1 366.2,205.2 369.5,203.5C372.8,201.8 376.3,200.3 379.7,198.6C383.1,196.9 386.4,195.1 389.7,193.3C393.0,191.5 396.3,189.8 399.6,188.0C402.9,186.2 406.8,184.3 409.5,182.6C412.2,180.9 414.8,178.4 415.9,177.6" stroke="#00FF00" stroke-width="2.0" fill="none" stroke-linejoin="round"/>
<path d="M210.5,271.2 L226.0,269.6" stroke="#00FF00" stroke-width="2.0" fill="none" stroke-linejoin="round"/>
<path d="M242.6,266.3C243.7,265.6 246.9,263.2 249.4,262.2C251.9,261.2 254.8,260.8 257.5,260.2C260.2,259.6 262.5,259.2 265.6,258.6C268.7,258.0 272.3,257.6 276.0,256.4C279.7,255.2 284.0,253.0 288.0,251.6C292.0,250.2 296.0,249.0 300.0,248.0C304.0,247.0 308.6,246.2 312.0,245.6C315.4,245.0 317.4,245.0 320.3,244.2C323.2,243.4 326.5,241.9 329.7,240.6C332.9,239.3 337.0,237.5 339.7,236.2C342.4,234.9 343.9,233.7 345.6,233.0C347.3,232.3 347.5,232.4 349.9,231.8C352.3,231.2 356.9,230.2 359.9,229.6C362.9,229.0 365.3,228.8 368.0,228.0C370.7,227.2 373.6,225.7 376.0,224.7C378.4,223.7 380.3,223.1 382.6,222.0C384.9,220.9 386.9,219.4 389.7,217.9C392.5,216.4 396.6,214.4 399.6,212.8C402.6,211.2 404.8,210.1 407.5,208.4C410.2,206.8 414.5,203.8 415.9,202.9" stroke="#00FF00" stroke-width="2.0" fill="none" stroke-linejoin="round"/>
<g transform="translate(157.27,266.23) rotate(-19.00) scale(0.2550,0.255)" fill="#00FF00" opacity="0.9"><use href="#g18" x="-35"/><use href="#g19" x="-15"/><use href="#g20" x="-5"/><use href="#g21" x="15"/></g>
<g transform="translate(380.20,164.92) rotate(-34.00) scale(0.2550,0.255)" fill="#00FF00" opacity="0.9"><use href="#g18" x="-35"/><use href="#g19" x="-15"/><use href="#g20" x="-5"/><use href="#g21" x="15"/></g>
<g transform="translate(189.07,264.83) rotate(-19.00) scale(0.2550,0.255)" fill="#00FF00" opacity="0.9"><use href="#g18" x="-25"/><use href="#g19" x="-5"/><use href="#g21" x="5"/></g>
<g transform="translate(389.56,179.85) rotate(-33.00) scale(0.2550,0.255)" fill="#00FF00" opacity="0.9"><use href="#g18" x="-25"/><use href="#g19" x="-5"/><use href="#g21" x="5"/></g>
<g transform="translate(209.97,265.23) rotate(-19.00) scale(0.2550,0.255)" fill="#00FF00" opacity="0.9"><use href="#g18" x="-35"/><use href="#g19" x="-15"/><use href="#g22" x="-5"/><use href="#g21" x="15"/></g>
<g transform="translate(234.36,270.22) rotate(-12.00) scale(0.2550,0.255)" fill="#00FF00" opacity="0.7"><use href="#g23" x="-10"/></g>
<path d="M261.6,262.9C262.1,262.8 262.5,262.5 264.6,262.0C266.7,261.5 270.9,260.7 274.1,260.0C277.3,259.3 280.5,258.5 283.8,257.6C287.1,256.7 290.7,255.5 294.0,254.5C297.3,253.5 300.4,252.4 303.6,251.6C306.9,250.8 310.7,250.2 313.5,249.6C316.3,249.0 317.9,248.8 320.6,248.0C323.4,247.2 326.5,246.1 330.0,245.0C333.5,243.9 338.1,242.6 341.6,241.5C345.1,240.4 348.1,239.5 351.2,238.6C354.3,237.7 356.8,237.0 360.0,236.0C363.2,235.0 367.0,233.8 370.3,232.6C373.6,231.4 376.5,230.2 379.6,229.0C382.7,227.8 386.0,226.4 388.9,225.2C391.8,224.0 394.5,223.1 397.2,222.0C399.9,220.9 402.2,220.0 405.0,218.8C407.8,217.6 412.5,215.5 414.0,214.8" stroke="#00FF00" stroke-width="2.0" fill="none" stroke-linejoin="round" stroke-dasharray="5.3 4.75" stroke-dashoffset="9.0"/>
<path d="M251.4,271.0 L255.5,269.7" stroke="#00FF00" stroke-width="2.0" fill="none" stroke-linejoin="round"/>
<path d="M260.9,268.3 L265.6,267.2" stroke="#00FF00" stroke-width="2.0" fill="none" stroke-linejoin="round"/>
<path d="M289.8,262.6C290.2,262.5 290.2,262.5 292.2,261.9C294.2,261.3 298.6,260.0 301.8,259.2C305.0,258.4 308.1,257.8 311.4,257.0C314.7,256.2 318.6,255.4 321.8,254.6C325.0,253.8 327.7,253.0 330.8,252.2C333.9,251.4 337.2,250.6 340.4,249.8C343.6,249.0 347.0,248.2 350.2,247.4C353.4,246.6 356.3,245.6 359.6,244.8C362.9,244.0 366.8,243.4 370.0,242.4C373.2,241.4 376.0,240.1 379.0,239.0C382.0,237.9 385.1,236.9 388.2,235.8C391.3,234.7 394.6,233.5 397.8,232.4C401.0,231.3 404.4,230.2 407.4,229.2C410.3,228.2 414.1,226.9 415.5,226.4" stroke="#00FF00" stroke-width="2.0" fill="none" stroke-linejoin="round" stroke-dasharray="5.3 4.75" stroke-dashoffset="9.0"/>
<path d="M268.3,271.3 L271.7,270.3" stroke="#00FF00" stroke-width="2.0" fill="none" stroke-linejoin="round"/>
<path d="M277.8,269.6 L283.2,268.4" stroke="#00FF00" stroke-width="2.0" fill="none" stroke-linejoin="round"/>
<path d="M317.4,262.4C318.0,262.2 319.2,262.1 321.2,261.5C323.2,260.9 326.6,259.7 329.6,258.8C332.6,257.9 335.9,257.3 339.2,256.4C342.5,255.5 346.1,254.5 349.4,253.6C352.7,252.7 355.6,251.9 359.0,251.2C362.4,250.5 366.4,250.0 369.6,249.2C372.8,248.4 375.3,247.4 378.3,246.4C381.3,245.4 384.4,244.0 387.5,243.0C390.6,242.0 393.9,241.2 397.1,240.3C400.3,239.4 403.7,238.5 406.8,237.7C409.9,236.8 414.1,235.6 415.5,235.2" stroke="#00FF00" stroke-width="2.0" fill="none" stroke-linejoin="round" stroke-dasharray="5.3 4.75" stroke-dashoffset="0"/>
<path d="M295.2,271.0 L300.0,270.6" stroke="#00FF00" stroke-width="2.0" fill="none" stroke-linejoin="round"/>
<path d="M319.2,270.3C320.9,269.9 326.1,268.8 329.6,268.0C333.1,267.2 337.0,266.2 340.4,265.4C343.8,264.6 346.7,263.9 350.0,263.2C353.3,262.5 356.8,261.8 360.2,261.2C363.6,260.6 367.1,260.4 370.3,259.8C373.5,259.2 376.4,258.6 379.6,257.8C382.8,257.1 386.3,256.2 389.5,255.3C392.7,254.5 395.7,253.7 398.8,252.7C401.9,251.7 406.0,250.2 408.1,249.5C410.2,248.8 410.9,248.6 411.5,248.4" stroke="#00FF00" stroke-width="2.0" fill="none" stroke-linejoin="round" stroke-dasharray="5.3 4.75" stroke-dashoffset="0"/>
<g transform="translate(247.86,270.02) rotate(-12.00) scale(0.2550,0.255)" fill="#00FF00" opacity="0.7"><use href="#g18" x="-35"/><use href="#g19" x="-15"/><use href="#g20" x="-5"/><use href="#g21" x="15"/></g>
<g transform="translate(278.16,268.62) rotate(-12.00) scale(0.2550,0.255)" fill="#00FF00" opacity="0.8"><use href="#g18" x="-25"/><use href="#g19" x="-5"/><use href="#g21" x="5"/></g>
<g transform="translate(304.40,267.11) rotate(-13.00) scale(0.2550,0.255)" fill="#00FF00" opacity="0.8"><use href="#g18" x="-35"/><use href="#g19" x="-15"/><use href="#g22" x="-5"/><use href="#g21" x="15"/></g>
<path d="M264.4,24.0 L263.2,39.5" stroke="#FFA500" stroke-width="2.0" fill="none" stroke-linejoin="round" stroke-dasharray="5.3 4.75" stroke-dashoffset="9.5"/>
<path d="M261.0,61.0C260.8,62.8 260.3,68.8 259.9,72.0C259.5,75.2 259.3,76.7 258.8,80.0C258.3,83.3 257.5,87.9 256.9,91.9C256.2,95.9 255.6,100.2 254.9,103.8C254.2,107.4 253.6,110.1 252.9,113.8C252.2,117.5 251.3,122.4 250.9,125.7C250.5,129.0 250.6,131.0 250.3,133.6C250.0,136.2 249.5,139.8 249.3,141.0" stroke="#FFA500" stroke-width="2.0" fill="none" stroke-linejoin="round" stroke-dasharray="5.3 4.75" stroke-dashoffset="0"/>
<path d="M290.0,24.0C289.8,27.5 289.1,38.2 288.6,45.0C288.2,51.8 287.5,61.4 287.3,64.7" stroke="#FFA500" stroke-width="2.0" fill="none" stroke-linejoin="round" stroke-dasharray="5.3 4.75" stroke-dashoffset="5.25"/>
<path d="M285.3,81.0C284.9,83.5 283.6,90.8 282.7,95.9C281.8,101.0 280.6,106.8 279.7,111.8C278.8,116.8 277.9,121.7 277.3,125.7C276.7,129.7 276.5,133.0 276.3,135.6C276.1,138.2 276.1,140.1 276.0,141.0" stroke="#FFA500" stroke-width="2.0" fill="none" stroke-linejoin="round" stroke-dasharray="5.3 4.75" stroke-dashoffset="0"/>
<path d="M305.9,24.0C305.8,26.3 305.6,33.4 305.5,38.0C305.4,42.6 305.2,49.5 305.1,51.8" stroke="#FFA500" stroke-width="2.0" fill="none" stroke-linejoin="round" stroke-dasharray="5.3 4.75" stroke-dashoffset="7.65"/>
<path d="M302.5,77.6C302.0,80.0 300.6,87.2 299.6,91.9C298.6,96.6 297.6,101.2 296.6,105.8C295.6,110.4 294.4,115.4 293.6,119.7C292.8,124.0 292.4,128.0 292.0,131.6C291.6,135.2 291.6,139.4 291.5,141.0" stroke="#FFA500" stroke-width="2.0" fill="none" stroke-linejoin="round" stroke-dasharray="5.3 4.75" stroke-dashoffset="0"/>
<path d="M320.5,24.0C321.2,25.3 323.4,29.2 325.0,32.0C326.6,34.8 328.8,37.9 329.8,40.9C330.8,43.9 330.7,46.6 330.8,49.8C330.9,53.0 330.7,56.7 330.5,60.0C330.3,63.3 329.9,68.1 329.8,69.7" stroke="#FFA500" stroke-width="2.0" fill="none" stroke-linejoin="round" stroke-dasharray="5.3 4.75" stroke-dashoffset="5.5"/>
<path d="M327.0,86.0C326.2,87.8 323.8,93.3 322.4,96.9C321.0,100.5 319.7,104.5 318.4,107.8C317.1,111.1 315.9,113.5 314.5,116.7C313.1,119.9 311.0,123.6 309.9,126.7C308.8,129.8 308.4,133.2 307.9,135.6C307.4,138.0 307.1,140.1 307.0,141.0" stroke="#FFA500" stroke-width="2.0" fill="none" stroke-linejoin="round" stroke-dasharray="5.3 4.75" stroke-dashoffset="0"/>
<g transform="translate(264.12,50.74) rotate(-86.00) scale(0.2550,0.255)" fill="#FFA500" opacity="0.9"><use href="#g18" x="-35"/><use href="#g19" x="-15"/><use href="#g20" x="-5"/><use href="#g21" x="15"/></g>
<g transform="translate(289.37,73.79) rotate(-86.00) scale(0.2550,0.255)" fill="#FFA500" opacity="0.9"><use href="#g18" x="-25"/><use href="#g19" x="-5"/><use href="#g21" x="5"/></g>
<g transform="translate(306.77,62.89) rotate(-86.00) scale(0.2550,0.255)" fill="#FFA500" opacity="0.9"><use href="#g18" x="-35"/><use href="#g19" x="-15"/><use href="#g22" x="-5"/><use href="#g21" x="15"/></g>
<g transform="translate(332.07,77.79) rotate(-86.00) scale(0.2550,0.255)" fill="#FFA500" opacity="0.9"><use href="#g23" x="-10"/></g>
<path d="M256.3,23.4C256.1,26.2 255.5,34.5 255.1,40.0C254.7,45.5 254.0,53.8 253.8,56.5" stroke="#FFA500" stroke-width="2.0" fill="none" stroke-linejoin="round"/>
<path d="M251.3,79.2C251.0,81.8 250.1,89.9 249.5,95.0C248.9,100.1 248.3,105.3 247.9,109.8C247.5,114.2 246.8,117.1 246.9,121.7C247.0,126.3 247.9,134.0 248.3,137.6C248.7,141.2 249.1,140.6 249.5,143.0C249.9,145.4 250.5,149.5 250.9,151.9C251.3,154.3 251.1,154.6 251.8,157.6C252.5,160.6 253.7,164.8 254.9,169.8C256.1,174.8 257.7,183.5 258.8,187.7C259.9,191.9 260.9,192.1 261.7,195.0C262.5,197.9 262.8,201.4 263.6,204.9C264.4,208.4 265.6,212.9 266.6,215.9C267.6,218.9 268.1,220.3 269.6,222.8C271.1,225.3 273.6,228.6 275.6,230.8C277.6,233.0 279.9,234.5 281.4,236.0C282.9,237.5 283.4,238.3 284.4,239.6C285.4,240.9 286.9,243.1 287.4,243.8" stroke="#FFA500" stroke-width="2.0" fill="none" stroke-linejoin="round"/>
<path d="M296.4,265.4C297.0,266.0 298.9,268.1 300.0,269.0C301.1,269.9 302.5,270.7 303.0,271.0" stroke="#FFA500" stroke-width="2.0" fill="none" stroke-linejoin="round"/>
<path d="M282.7,23.4C282.4,26.8 281.7,37.3 281.2,44.0C280.7,50.7 279.9,60.4 279.7,63.7" stroke="#FFA500" stroke-width="2.0" fill="none" stroke-linejoin="round"/>
<path d="M277.3,81.0C277.0,84.2 276.2,93.5 275.7,99.9C275.2,106.4 274.5,113.8 274.3,119.7C274.1,125.7 274.4,131.7 274.7,135.6C275.0,139.5 275.6,139.6 276.3,143.0C277.0,146.4 277.6,151.1 278.7,155.9C279.8,160.7 281.4,166.5 282.7,171.8C284.0,177.1 285.9,183.8 286.7,187.7C287.5,191.6 287.2,192.5 287.7,195.0C288.2,197.5 288.9,199.9 289.5,202.9C290.1,205.9 290.7,210.3 291.4,212.9C292.1,215.5 292.3,216.2 293.7,218.5C295.1,220.8 297.7,224.2 299.9,226.9C302.1,229.7 304.8,232.6 306.8,235.0C308.8,237.4 310.8,239.9 312.0,241.4C313.2,242.9 313.5,243.4 313.8,243.8" stroke="#FFA500" stroke-width="2.0" fill="none" stroke-linejoin="round"/>
<path d="M321.4,261.8C321.7,262.5 322.2,264.7 323.0,266.0C323.8,267.3 324.9,268.6 326.0,269.4C327.1,270.2 329.0,270.7 329.6,271.0" stroke="#FFA500" stroke-width="2.0" fill="none" stroke-linejoin="round"/>
<path d="M299.2,23.4 L298.0,34.9" stroke="#FFA500" stroke-width="2.0" fill="none" stroke-linejoin="round"/>
<path d="M296.2,55.8C296.0,57.8 295.2,64.0 294.8,68.0C294.4,72.0 294.0,75.3 293.6,80.0C293.2,84.7 292.8,89.9 292.2,95.9C291.6,101.9 290.5,110.2 290.0,115.8C289.5,121.4 289.1,125.7 289.2,129.7C289.3,133.7 290.1,137.4 290.6,139.6C291.1,141.8 291.4,140.0 292.0,143.0C292.6,146.0 293.5,152.9 294.3,157.6C295.1,162.2 295.9,166.0 297.0,170.9C298.1,175.8 299.9,181.8 301.2,186.8C302.4,191.8 303.4,196.4 304.5,200.7C305.6,205.0 306.8,209.8 307.6,212.6C308.4,215.4 308.7,216.2 309.5,217.6C310.3,219.0 310.6,219.0 312.3,220.9C314.0,222.8 317.9,226.3 319.8,228.8C321.7,231.3 322.5,234.1 323.6,236.0C324.7,237.9 326.1,239.5 326.6,240.2" stroke="#FFA500" stroke-width="2.0" fill="none" stroke-linejoin="round"/>
<path d="M336.8,263.0C337.2,263.7 337.8,265.9 339.2,267.2C340.6,268.5 344.2,270.4 345.2,271.0" stroke="#FFA500" stroke-width="2.0" fill="none" stroke-linejoin="round"/>
<path d="M316.7,23.4C317.2,26.1 319.4,35.5 319.9,39.9C320.4,44.3 319.9,44.8 319.5,49.8C319.1,54.8 317.8,66.4 317.5,69.7" stroke="#FFA500" stroke-width="2.0" fill="none" stroke-linejoin="round"/>
<path d="M314.1,84.0C313.3,86.0 310.9,91.6 309.5,95.9C308.1,100.2 306.7,105.5 305.9,109.8C305.1,114.1 304.6,117.7 304.5,121.7C304.4,125.7 304.7,130.0 305.1,133.6C305.5,137.2 306.6,139.0 307.1,143.0C307.6,147.0 307.8,154.3 308.3,157.6C308.8,160.9 309.5,160.3 309.9,162.9C310.3,165.5 310.4,169.2 310.9,172.9C311.4,176.6 312.2,180.8 313.1,184.8C314.0,188.8 315.2,193.1 316.1,196.7C317.0,200.3 317.8,204.1 318.4,206.6C319.0,209.1 319.5,210.2 320.0,211.5C320.5,212.8 320.8,213.3 321.6,214.6C322.4,215.9 323.0,217.2 324.8,219.3C326.6,221.4 330.0,224.7 332.7,227.0C335.4,229.3 338.7,231.0 341.0,233.0C343.3,235.0 345.3,237.2 346.6,238.8C347.9,240.4 348.6,241.7 349.0,242.3" stroke="#FFA500" stroke-width="2.0" fill="none" stroke-linejoin="round"/>
<path d="M355.0,254.0C355.0,255.0 354.4,258.2 354.8,260.0C355.2,261.8 356.1,263.4 357.2,264.8C358.3,266.2 360.1,267.4 361.4,268.4C362.7,269.4 364.4,270.6 365.0,271.0" stroke="#FFA500" stroke-width="2.0" fill="none" stroke-linejoin="round"/>
<g transform="translate(255.27,68.74) rotate(-86.00) scale(0.2550,0.255)" fill="#FFA500" opacity="0.9"><use href="#g18" x="-35"/><use href="#g19" x="-15"/><use href="#g20" x="-5"/><use href="#g21" x="15"/></g>
<g transform="translate(281.67,73.79) rotate(-86.00) scale(0.2550,0.255)" fill="#FFA500" opacity="0.9"><use href="#g18" x="-25"/><use href="#g19" x="-5"/><use href="#g21" x="5"/></g>
<g transform="translate(300.27,45.59) rotate(-86.00) scale(0.2550,0.255)" fill="#FFA500" opacity="0.9"><use href="#g18" x="-35"/><use href="#g19" x="-15"/><use href="#g22" x="-5"/><use href="#g21" x="15"/></g>
<g transform="translate(318.37,77.79) rotate(-86.00) scale(0.2550,0.255)" fill="#FFA500" opacity="0.9"><use href="#g23" x="-10"/></g>
<g transform="translate(291.03,255.22) rotate(58.00) scale(0.2550,0.255)" fill="#FFA500" opacity="0.9"><use href="#g18" x="-35"/><use href="#g19" x="-15"/><use href="#g20" x="-5"/><use href="#g21" x="15"/></g>
<g transform="translate(315.94,254.16) rotate(62.00) scale(0.2550,0.255)" fill="#FFA500" opacity="0.9"><use href="#g18" x="-25"/><use href="#g19" x="-5"/><use href="#g21" x="5"/></g>
<g transform="translate(332.63,253.82) rotate(58.00) scale(0.2550,0.255)" fill="#FFA500" opacity="0.9"><use href="#g18" x="-35"/><use href="#g19" x="-15"/><use href="#g22" x="-5"/><use href="#g21" x="15"/></g>
<g transform="translate(350.48,248.72) rotate(70.00) scale(0.2550,0.255)" fill="#FFA500" opacity="0.9"><use href="#g23" x="-10"/></g>
</g>
<line x1="177.62" y1="271.45" x2="177.62" y2="23.0" stroke="#000" stroke-width="1.5" stroke-dasharray="1.3 2.19" fill="none"/>
<line x1="257.06" y1="271.45" x2="257.06" y2="23.0" stroke="#000" stroke-width="1.5" stroke-dasharray="1.3 2.19" fill="none"/>
<line x1="320.61" y1="271.45" x2="320.61" y2="23.0" stroke="#000" stroke-width="1.5" stroke-dasharray="1.3 2.19" fill="none"/>
<line x1="415.94" y1="271.45" x2="415.94" y2="23.0" stroke="#000" stroke-width="1.5" stroke-dasharray="1.3 2.19" fill="none"/>
<line x1="156.32" y1="157.60" x2="177.62" y2="157.60" stroke="#8a8a8a" stroke-width="0.85"/>
<path d="M151.32,157.60 L157.42,154.15 L157.42,161.05Z" fill="#000"/>
<line x1="235.76" y1="157.60" x2="257.06" y2="157.60" stroke="#8a8a8a" stroke-width="0.85"/>
<path d="M230.76,157.60 L236.86,154.15 L236.86,161.05Z" fill="#000"/>
<line x1="294.01" y1="157.60" x2="320.61" y2="157.60" stroke="#8a8a8a" stroke-width="0.85"/>
<path d="M289.01,157.60 L295.11,154.15 L295.11,161.05Z" fill="#000"/>
<line x1="394.64" y1="157.60" x2="415.94" y2="157.60" stroke="#8a8a8a" stroke-width="0.85"/>
<path d="M389.64,157.60 L395.74,154.15 L395.74,161.05Z" fill="#000"/>
<g transform="translate(71.70,288.60) rotate(0.00) scale(0.3696,0.383)" fill="#000"><use href="#g24" x="-20"/><use href="#g25" x="0"/></g>
<g transform="translate(124.66,288.60) rotate(0.00) scale(0.3696,0.383)" fill="#000"><use href="#g24" x="-20"/><use href="#g26" x="0"/></g>
<g transform="translate(177.62,288.60) rotate(0.00) scale(0.3696,0.383)" fill="#000"><use href="#g24" x="-20"/><use href="#g24" x="0"/></g>
<g transform="translate(230.58,288.60) rotate(0.00) scale(0.3696,0.383)" fill="#000"><use href="#g24" x="-20"/><use href="#g27" x="0"/></g>
<g transform="translate(283.54,288.60) rotate(0.00) scale(0.3696,0.383)" fill="#000"><use href="#g24" x="-20"/><use href="#g28" x="0"/></g>
<g transform="translate(336.50,288.60) rotate(0.00) scale(0.3696,0.383)" fill="#000"><use href="#g24" x="-20"/><use href="#g29" x="0"/></g>
<g transform="translate(389.46,288.60) rotate(0.00) scale(0.3696,0.383)" fill="#000"><use href="#g24" x="-20"/><use href="#g30" x="0"/></g>
<g transform="translate(67.90,271.35) rotate(0.00) scale(0.3696,0.383)" fill="#000"><use href="#g25" x="-50"/><use href="#g31" x="-30"/><use href="#g29" x="-20"/></g>
<g transform="translate(67.90,240.22) rotate(0.00) scale(0.3696,0.383)" fill="#000"><use href="#g26" x="-50"/><use href="#g31" x="-30"/><use href="#g25" x="-20"/></g>
<g transform="translate(67.90,204.79) rotate(0.00) scale(0.3696,0.383)" fill="#000"><use href="#g26" x="-50"/><use href="#g31" x="-30"/><use href="#g29" x="-20"/></g>
<g transform="translate(67.90,169.36) rotate(0.00) scale(0.3696,0.383)" fill="#000"><use href="#g24" x="-50"/><use href="#g31" x="-30"/><use href="#g25" x="-20"/></g>
<g transform="translate(67.90,133.94) rotate(0.00) scale(0.3696,0.383)" fill="#000"><use href="#g24" x="-50"/><use href="#g31" x="-30"/><use href="#g29" x="-20"/></g>
<g transform="translate(67.90,98.51) rotate(0.00) scale(0.3696,0.383)" fill="#000"><use href="#g27" x="-50"/><use href="#g31" x="-30"/><use href="#g25" x="-20"/></g>
<g transform="translate(67.90,63.08) rotate(0.00) scale(0.3696,0.383)" fill="#000"><use href="#g27" x="-50"/><use href="#g31" x="-30"/><use href="#g29" x="-20"/></g>
<g transform="translate(67.90,30.85) rotate(0.00) scale(0.3696,0.383)" fill="#000"><use href="#g28" x="-50"/><use href="#g31" x="-30"/><use href="#g25" x="-20"/></g>
<g transform="translate(246.40,303.40) rotate(0.00) scale(0.3830,0.383)" fill="#000"><use href="#g32" x="-218.5"/><use href="#g33" x="-198.5"/><use href="#g34" x="-179.5"/><use href="#g35" x="-166.5"/><use href="#g36" x="-150.5"/><use href="#g37" x="-132.5"/><use href="#g38" x="-100.5"/><use href="#g36" x="-79.5"/><use href="#g39" x="-61.5"/><use href="#g40" x="-42.5"/><use href="#g41" x="-30.5"/><use href="#g42" x="4.5"/><use href="#g34" x="18.5"/><use href="#g43" x="47.5"/><use href="#g44" x="71.5"/><use href="#g45" x="90.5"/><use href="#g46" x="109.5"/><use href="#g47" x="128.5"/><use href="#g40" x="136.5"/><use href="#g33" x="148.5"/><use href="#g48" x="167.5"/><use href="#g36" x="186.5"/><use href="#g49" x="204.5"/></g>
<g transform="translate(38.70,147.40) rotate(-90.00) scale(0.3830,0.383)" fill="#000"><use href="#g50" x="-123.5"/><use href="#g44" x="-102.5"/><use href="#g48" x="-83.5"/><use href="#g36" x="-64.5"/><use href="#g46" x="-46.5"/><use href="#g51" x="-27.5"/><use href="#g36" x="-9.5"/><use href="#g42" x="24.5"/><use href="#g48" x="38.5"/><use href="#g44" x="57.5"/><use href="#g37" x="76.5"/><use href="#g52" x="92.5"/><use href="#g49" x="109.5"/></g>
</svg>
</body></html>
